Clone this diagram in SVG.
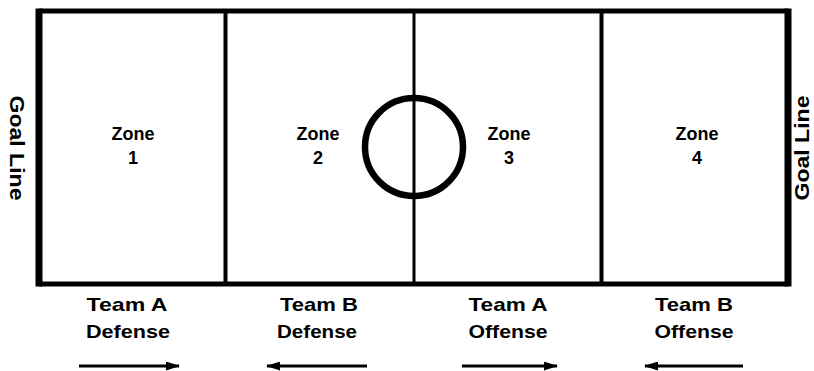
<svg xmlns="http://www.w3.org/2000/svg" width="814" height="371" viewBox="0 0 814 371">
<style>
text{font-family:"Liberation Sans",Arial,sans-serif;font-weight:bold;fill:#000;text-anchor:middle}
.zone{font-size:18px}
.lab{font-size:19px}
.goal{font-size:20px}
.ln{stroke:#000;fill:none}
.arr{stroke:#000;stroke-width:2.8;fill:none}
</style>
<defs>
<marker id="ah" markerWidth="15" markerHeight="9" refX="13" refY="4.5" orient="auto" markerUnits="userSpaceOnUse">
<path d="M0,0 L14,4.5 L0,9 Z" fill="#000"/>
</marker>
</defs>
<rect width="814" height="371" fill="#fff"/>
<g id="field">
<line class="ln" x1="39" y1="11" x2="788" y2="11" stroke-width="5"/>
<line class="ln" x1="39" y1="284" x2="788" y2="284" stroke-width="5"/>
<line class="ln" x1="39" y1="8.5" x2="39" y2="286.5" stroke-width="7"/>
<line class="ln" x1="788" y1="8.5" x2="788" y2="286.5" stroke-width="7"/>
<line class="ln" x1="225.5" y1="11" x2="225.5" y2="284" stroke-width="4"/>
<line class="ln" x1="601.5" y1="11" x2="601.5" y2="284" stroke-width="4"/>
<line class="ln" x1="414" y1="11" x2="414" y2="284" stroke-width="3"/>
<circle class="ln" cx="414" cy="147" r="49" stroke-width="6.5"/>
</g>
<g id="zone1"><text class="zone" x="133" y="140">Zone</text><text class="zone" x="133" y="164">1</text></g>
<g id="zone2"><text class="zone" x="318" y="140">Zone</text><text class="zone" x="318" y="164">2</text></g>
<g id="zone3"><text class="zone" x="509" y="140">Zone</text><text class="zone" x="509" y="164">3</text></g>
<g id="zone4"><text class="zone" x="697" y="140">Zone</text><text class="zone" x="697" y="164">4</text></g>
<g id="goal-left"><text class="goal" transform="translate(17,148) rotate(90)" y="7" textLength="105" lengthAdjust="spacingAndGlyphs">Goal Line</text></g>
<g id="goal-right"><text class="goal" transform="translate(802,148) rotate(-90)" y="7" textLength="105" lengthAdjust="spacingAndGlyphs">Goal Line</text></g>
<g id="label-a-def"><text class="lab" x="127" y="311" textLength="81" lengthAdjust="spacingAndGlyphs">Team A</text><text class="lab" x="128" y="338" textLength="84" lengthAdjust="spacingAndGlyphs">Defense</text></g>
<g id="label-b-def"><text class="lab" x="319" y="311" textLength="78" lengthAdjust="spacingAndGlyphs">Team B</text><text class="lab" x="317" y="338" textLength="80" lengthAdjust="spacingAndGlyphs">Defense</text></g>
<g id="label-a-off"><text class="lab" x="508" y="311" textLength="79" lengthAdjust="spacingAndGlyphs">Team A</text><text class="lab" x="508" y="338" textLength="79" lengthAdjust="spacingAndGlyphs">Offense</text></g>
<g id="label-b-off"><text class="lab" x="694" y="311" textLength="78" lengthAdjust="spacingAndGlyphs">Team B</text><text class="lab" x="694" y="338" textLength="79" lengthAdjust="spacingAndGlyphs">Offense</text></g>
<g id="connectors">
<line class="arr" x1="79" y1="366" x2="179" y2="366" marker-end="url(#ah)"/>
<line class="arr" x1="367" y1="366" x2="267" y2="366" marker-end="url(#ah)"/>
<line class="arr" x1="462" y1="366" x2="557" y2="366" marker-end="url(#ah)"/>
<line class="arr" x1="743" y1="366" x2="645" y2="366" marker-end="url(#ah)"/>
</g>
</svg>
